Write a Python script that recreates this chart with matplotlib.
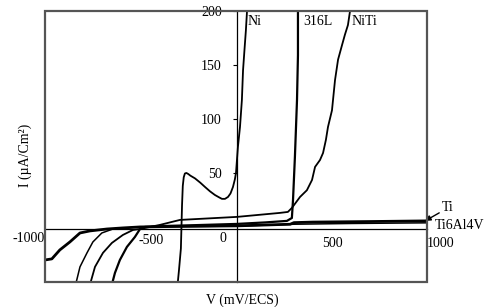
import matplotlib
matplotlib.use("Agg")
import matplotlib.pyplot as plt
from matplotlib.patches import Rectangle

plt.rcParams['font.family'] = ['Liberation Serif', 'DejaVu Serif']
plt.rcParams['font.size'] = 10

# polarisation curves, V in mV/ECS, I in uA/cm2
ni_v = [-316, -305, -295, -289, -285, -280, -274, -266, -256, -245, -221, -193, -168,
        -142, -116, -95, -79, -63, -47, -34, -21, -11, -5, 5, 16, 26, 32, 40, 47, 53]
ni_i = [-60, -40, -20, 20, 38, 46, 49.5, 50, 49, 47.5, 45, 41, 37,
        33, 29.6, 27.5, 26, 26, 27.8, 31, 37, 44, 50, 74, 92.6, 117.6, 145, 165, 182, 200]

l316_v = [-668, -642, -616, -579, -537, -510, -484, -400, -250, 0, 150, 263, 289,
          295, 305, 316, 321, 321]
l316_i = [-60, -42.6, -30.6, -18.5, -9.3, -1.9, 0, 0.8, 1.5, 2.8, 4.2, 5.6, 8.3,
          25, 65, 117.6, 159, 200]

niti_v = [-784, -747, -705, -658, -600, -547, -510, -405, -300, 0, 226, 268, 289,
          332, 368, 395, 411, 437, 453, 468, 479, 500, 516, 532, 553, 568, 584, 595]
niti_i = [-60, -37, -24, -14.8, -7.4, -2.8, -1.9, 1.9, 6.5, 9.3, 13, 13.9, 17.6,
          27.8, 34, 43.5, 55.6, 62, 68.5, 80.6, 92.6, 108, 136, 155, 168.5, 178, 187, 200]

ti_v = [-1010, -974, -932, -879, -826, -774, -684, -600, -510, -300, 0, 280, 300,
        400, 700, 1000]
ti_i = [-30.6, -29.6, -21.3, -13.9, -5.6, -3.7, -1.9, -0.9, 0, 0.5, 1, 2.5, 4,
        4.5, 5, 5.6]

ti64_v = [-858, -826, -789, -758, -711, -653, -579, -510, -300, 0, 300, 600, 1000]
ti64_i = [-60, -37, -24, -13.9, -5.6, -1.9, -0.9, 0, 0.3, 0.8, 2.5, 3.2, 3.8]

y_ticks = [50, 100, 150, 200]
x_ticks = [-1000, -500, 0, 500, 1000]
x_tick_labels = ['-1000', '-500', '0', '500', '1000']

fig = plt.figure(figsize=(4.89, 3.07), dpi=100)
ax = fig.add_axes([45 / 489, 25 / 307, 382 / 489, 271 / 307])
ax.set_xlim(-1010, 1000)
ax.set_ylim(-51, 200)

lw = 1.3
ax.plot(ti_v, ti_i, color='black', lw=2.0)
ax.plot(ti64_v, ti64_i, color='black', lw=1.1)
ax.plot(l316_v, l316_i, color='black', lw=1.6)
ax.plot(niti_v, niti_i, color='black', lw=lw)
ax.plot(ni_v, ni_i, color='black', lw=lw)

# axes crossing at the origin
for s in ['top', 'right']:
    ax.spines[s].set_visible(False)
ax.spines['left'].set_position(('data', 0))
ax.spines['bottom'].set_position(('data', -2))
ax.spines['left'].set_linewidth(0.9)
ax.spines['bottom'].set_linewidth(0.9)
ax.set_xticks([])
ax.set_yticks(y_ticks)
ax.set_yticklabels([str(t) for t in y_ticks])
ax.tick_params(axis='y', direction='out', length=3, width=0.8, pad=8, labelsize=10)
ax.add_patch(Rectangle((0, 0), 1, 1, transform=ax.transAxes, fill=False,
                       lw=1.6, ec='#555555', clip_on=False, zorder=5))

# x tick labels, placed as in the original
lab_x = [-1010, -450, -74, 500, 1000]
lab_y = [-11, -13, -11, -15, -15]
lab_ha = ['right', 'center', 'center', 'center', 'left']
for xv, yv, ha, t in zip(lab_x, lab_y, lab_ha, x_tick_labels):
    ax.text(xv, yv, t, ha=ha, va='center', fontsize=10, clip_on=False)

# curve labels
ax.text(58, 190, 'Ni', va='center', fontsize=10)
ax.text(347, 190, '316L', va='center', fontsize=10)
ax.text(605, 190, 'NiTi', va='center', fontsize=10)
ax.annotate('Ti', xy=(990, 5.6), xytext=(1079, 17.6), va='center', fontsize=10,
            annotation_clip=False,
            arrowprops=dict(arrowstyle='-|>', color='black', lw=1.0,
                            mutation_scale=8, shrinkA=0, shrinkB=0))
ax.text(1042, 1, 'Ti6Al4V', va='center', fontsize=10, clip_on=False)

fig.text(25 / 489, 1 - 155 / 307, 'I (µA/Cm²)', rotation=90, ha='center',
         va='center', fontsize=10)
fig.text(242 / 489, 1 - 300 / 307, 'V (mV/ECS)', ha='center', va='center',
         fontsize=10)

fig.savefig('out.png', dpi=100)
